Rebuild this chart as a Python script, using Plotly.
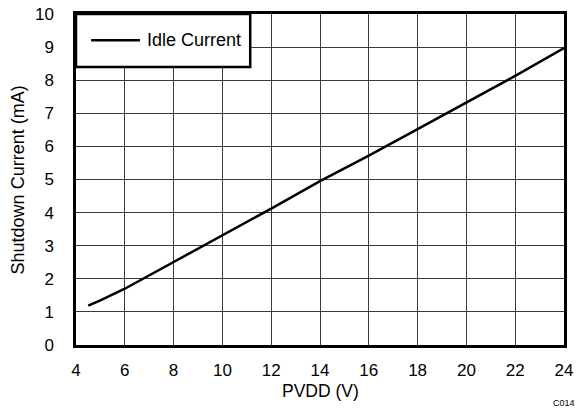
import plotly.graph_objects as go

# Supply voltage (V) and idle current (mA)
pvdd = [4.5, 5.0, 6.0, 7.0, 8.0, 10.0, 12.0, 14.0, 16.0, 18.0, 20.0, 22.0, 24.0]
idle_current = [1.19, 1.35, 1.70, 2.10, 2.50, 3.30, 4.12, 4.95, 5.72, 6.52, 7.32, 8.13, 8.97]

x_ticks = [4, 6, 8, 10, 12, 14, 16, 18, 20, 22, 24]
y_ticks = [0, 1, 2, 3, 4, 5, 6, 7, 8, 9, 10]

FONT = "Liberation Sans, Arial, sans-serif"
TICK = dict(family=FONT, size=17, color="black")
TITLE = dict(family=FONT, size=18, color="black")

fig = go.Figure()
fig.add_trace(go.Scatter(
    x=pvdd, y=idle_current, mode="lines", name="Idle Current",
    line=dict(color="black", width=2.5), showlegend=False,
))

axis_common = dict(
    showgrid=True, gridcolor="#3a3a3a", gridwidth=1,
    showline=True, linecolor="black", linewidth=2.5, mirror=True,
    zeroline=False, ticks="", tickfont=TICK, automargin=False,
)

fig.update_xaxes(range=[4, 24], tickvals=x_ticks, ticklabelstandoff=8, **axis_common)
fig.update_yaxes(range=[0, 10], tickvals=y_ticks, ticklabelstandoff=16, **axis_common)

# Legend frame with its sample line and label
fig.add_shape(type="rect", xref="paper", yref="paper",
              x0=0, x1=0.357, y0=0.84, y1=1.0,
              fillcolor="white", line=dict(color="black", width=2.5), layer="above")
fig.add_shape(type="line", xref="paper", yref="paper",
              x0=0.031, x1=0.131, y0=0.921, y1=0.921,
              line=dict(color="black", width=2.5), layer="above")
fig.add_annotation(text="Idle Current", xref="paper", yref="paper", x=0.141, y=0.921,
                   xanchor="left", yanchor="middle", showarrow=False, font=TITLE)

# Axis titles
fig.add_annotation(text="PVDD (V)", xref="paper", yref="paper", x=0.5, y=-0.14,
                   xanchor="center", yanchor="middle", showarrow=False,
                   font=dict(family=FONT, size=17.5, color="black"))
fig.add_annotation(text="Shutdown Current (mA)", xref="paper", yref="paper", x=-0.119, y=0.5,
                   xanchor="center", yanchor="middle", showarrow=False, textangle=-90, font=TITLE)

fig.add_annotation(text="C014", xref="paper", yref="paper", x=1.0, y=-0.175,
                   xanchor="center", yanchor="middle", showarrow=False,
                   font=dict(family=FONT, size=9, color="black"))

fig.update_layout(
    width=579, height=412,
    margin=dict(l=76, r=15, t=14, b=67),
    paper_bgcolor="white", plot_bgcolor="white",
    showlegend=False,
    font=dict(family=FONT, color="black"),
)

fig.write_html("out.html")
